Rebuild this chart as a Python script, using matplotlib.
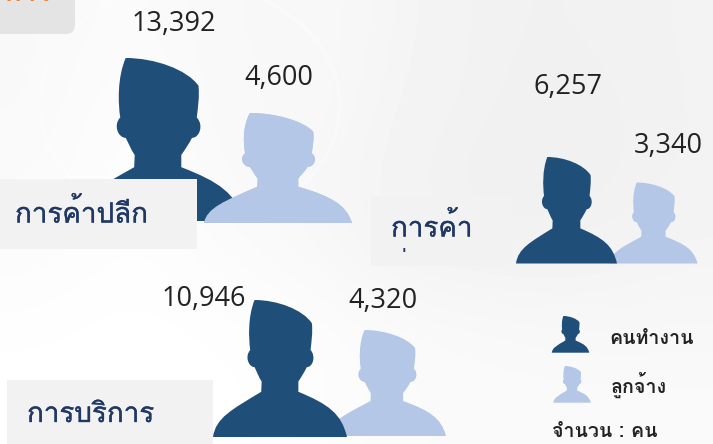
import numpy as np
import matplotlib
matplotlib.use("Agg")
import matplotlib.pyplot as plt
from matplotlib import font_manager as fm
from matplotlib import patheffects as pe
from matplotlib.path import Path
from matplotlib.patches import PathPatch, Rectangle, FancyBboxPatch, Ellipse
from matplotlib.ft2font import FT2Font

# ---------- data ----------
categories = ["การค้าปลีก", "การค้า", "การบริการ"]
workers = [13392, 6257, 10946]
employees = [4600, 3340, 4320]
legend_labels = ["คนทำงาน", "ลูกจ้าง"]
unit_label = "จำนวน : คน"

W, H = 713, 444
DARK, LIGHT = "#1f4e79", "#b4c7e7"

# pick an installed font that really has Thai glyphs
thai_font = None
for f in fm.fontManager.ttflist:
    try:
        cm = FT2Font(f.fname).get_charmap()
    except Exception:
        continue
    if 0x0E04 in cm and 0x0E33 in cm:
        thai_font = f.name
        break
families = ([thai_font] if thai_font else []) + ["Open Sans", "DejaVu Sans"]

fig = plt.figure(figsize=(W / 100, H / 100), dpi=100)
ax = fig.add_axes([0, 0, 1, 1])
ax.axis("off")

# faint background wash (grey levels)
wash = np.array([
    [.975, .985, .97, .975, .96, .945, .945, .95],
    [.975, .995, .97, .975, .955, .945, .94, .95],
    [.98, .995, .975, .97, .95, .94, .94, .95],
    [.985, .995, .985, .975, .955, .95, .95, .96],
    [.995, 1.0, .995, .99, .98, .975, .97, .97],
    [1.0, 1.0, 1.0, .99, .98, .98, .98, .98],
])
ax.imshow(wash, cmap="gray", vmin=0, vmax=1, extent=(0, W, H, 0), aspect="auto",
          interpolation="bicubic", zorder=0)
ax.set_xlim(0, W)
ax.set_ylim(H, 0)

# faint swirl behind the first group
for (cx, cy, ew, eh) in [(190, 105, 300, 240)]:
    ax.add_patch(Ellipse((cx, cy), ew, eh, fc="none", ec="white", lw=2, alpha=.35, zorder=1))

# person silhouette, unit shape: x in -0.5..0.5, y 0 at base, 1 at top
def person():
    M, L, C, Z = Path.MOVETO, Path.LINETO, Path.CURVE4, Path.CLOSEPOLY
    seg = [
        (M, (-0.50, 0)),
        (C, (-0.48, 0.14)), (C, (-0.36, 0.20)), (C, (-0.14, 0.33)),
        (L, (-0.137, 0.405)),
        (C, (-0.16, 0.44)), (C, (-0.17, 0.47)), (C, (-0.19, 0.51)),
        (C, (-0.235, 0.51)), (C, (-0.265, 0.59)), (C, (-0.222, 0.635)),
        (C, (-0.235, 0.72)), (C, (-0.24, 0.88)), (C, (-0.19, 1.0)),
        (C, (-0.02, 1.0)), (C, (0.17, 0.93)), (C, (0.238, 0.83)),
        (C, (0.245, 0.76)), (C, (0.235, 0.70)), (C, (0.228, 0.635)),
        (C, (0.27, 0.59)), (C, (0.245, 0.51)), (C, (0.20, 0.51)),
        (C, (0.18, 0.47)), (C, (0.16, 0.44)), (C, (0.137, 0.405)),
        (L, (0.137, 0.33)),
        (C, (0.36, 0.24)), (C, (0.46, 0.17)), (C, (0.50, 0)),
        (Z, (-0.50, 0)),
    ]
    return Path(np.array([p for _, p in seg]), [c for c, _ in seg])

def draw_person(cx, base, w, h, color, z):
    v = person().vertices.copy()
    v[:, 0] = cx + v[:, 0] * w
    v[:, 1] = base - v[:, 1] * h
    ax.add_patch(PathPatch(Path(v, person().codes), fc=color, ec="none", zorder=z))

# layout: (centre x, base y, width, height) for the icons
worker_boxes = [(158, 221, 170, 163), (566.5, 263.5, 101, 106.5), (280, 437, 134, 137)]
employee_boxes = [(278, 223, 148, 110), (653.5, 263.5, 88, 81), (387, 436, 118, 106)]
worker_text = [(174, 24), (568, 87), (204, 299)]
employee_text = [(279, 78), (668, 146), (383, 301)]
label_boxes = [(0, 179, 197, 70), (371, 196, 140, 70), (7, 380, 206, 64)]
label_text = [(15, 213), (391, 227), (27, 415)]

for (cx, b, w, h) in employee_boxes:
    draw_person(cx, b, w, h, LIGHT, 2)
for (cx, b, w, h) in worker_boxes:
    draw_person(cx, b, w, h, DARK, 3)
# light icon overlaps dark one in the first group
draw_person(*employee_boxes[0], LIGHT, 4)

stroke = [pe.withStroke(linewidth=0.25, foreground="#1f3864")]
for (x, y, w, h) in label_boxes:
    ax.add_patch(Rectangle((x, y), w, h, fc="#f2f2f2", ec="none", zorder=5))
for name, (x, y) in zip(categories, label_text):
    ax.text(x, y, name, family=families, fontsize=20, color="#1f3864", va="center",
            ha="left", zorder=6, path_effects=stroke)

# clipped second line of the wrapped label
second = ax.text(391, 268, "ส่ง", family=families, fontsize=20, color="#1f3864",
                 va="center", ha="left", zorder=6)
second.set_clip_path(Rectangle((371, 196), 140, 62, transform=ax.transData))
second.set_clip_on(True)

# top-left tab, cut off by the picture edge
ax.add_patch(FancyBboxPatch((-20, -20), 95, 54, boxstyle="round,pad=0,rounding_size=9",
                            fc="#e4e4e4", ec="none", zorder=5))
ax.text(4, -6.5, "การ", family=families, fontsize=20, color="#ed7d31", weight="bold",
        va="center", ha="left", zorder=6)

for v, (x, y) in zip(workers, worker_text):
    ax.text(x, y, f"{v:,}", family="Open Sans", fontsize=19.5,
            color="#222222", ha="center", va="center", zorder=7)
for v, (x, y) in zip(employees, employee_text):
    ax.text(x, y, f"{v:,}", family="Open Sans", fontsize=19.5,
            color="#222222", ha="center", va="center", zorder=7)

# legend
draw_person(570.5, 352.7, 37.5, 36.7, DARK, 3)
draw_person(572, 402.7, 37.5, 36.7, LIGHT, 3)
ax.text(609, 338, legend_labels[0], family=families, fontsize=14.2, weight="bold",
        color="#222222", va="center", ha="left", zorder=7)
ax.text(611, 385, legend_labels[1], family=families, fontsize=14.2, weight="bold",
        color="#222222", va="center", ha="left", zorder=7)
ax.text(552, 431, unit_label, family=families, fontsize=14.2, weight="bold",
        color="#222222", va="center", ha="left", zorder=7)

fig.savefig("out.png", dpi=100)
